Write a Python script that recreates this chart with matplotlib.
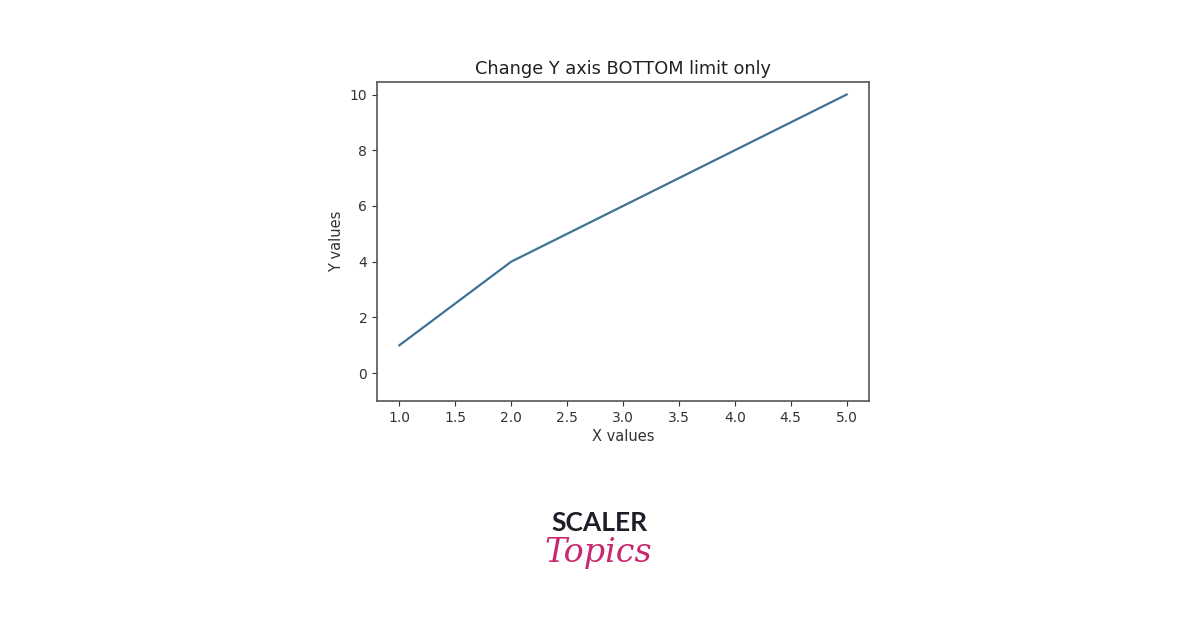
import matplotlib
matplotlib.use("Agg")
import matplotlib.pyplot as plt

x_values = [1, 2, 3, 4, 5]
y_values = [1, 4, 6, 8, 10]
title = "Change Y axis BOTTOM limit only"
x_label = "X values"
y_label = "Y values"

fig = plt.figure(figsize=(11.96, 6.28), dpi=100)
ax = fig.add_axes([377/1196, 1-401/628, (869-377)/1196, (401-82)/628])
ax.plot(x_values, y_values, color="#3d7396", linewidth=1.6)
ax.set_ylim(bottom=-1)
ax.set_title(title, fontsize=12.8, color="#222222")
ax.set_xlabel(x_label, fontsize=10.5, color="#333333", labelpad=3)
ax.set_ylabel(y_label, fontsize=10.5, color="#333333")
ax.tick_params(labelsize=10, colors="#333333")
for s in ax.spines.values():
    s.set_color("#555555")
    s.set_linewidth(1.2)

fig.text(599/1196, 1-523/628, "SCALER", ha="center", va="center",
         fontsize=19, fontweight="bold", family="Lato", color="#1e1e28")
fig.text(598/1196, 1-553/628, "Topics", ha="center", va="center",
         fontsize=24, fontstyle="italic", family="DejaVu Serif", color="#c8286e")

fig.savefig("out.png", dpi=100)
